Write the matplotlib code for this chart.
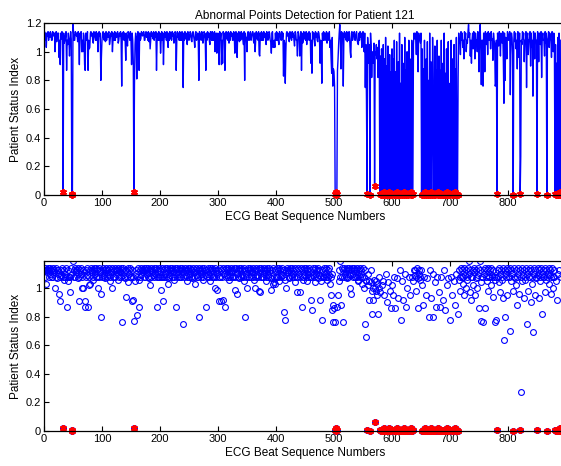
import matplotlib
matplotlib.use("Agg")
import matplotlib.pyplot as plt
from matplotlib.ticker import FuncFormatter
import numpy as np

# patient status index per ECG beat (100 beats per list)
beats_000 = [1.13, 1.14, 1.08, 1.13, 1.03, 1.13, 1.11, 1.14, 1.08, 1.13,
             1.10, 1.14, 1.13, 1.08, 1.08, 1.14, 1.13, 1.11, 1.13, 1.00,
             1.08, 1.14, 1.07, 1.13, 1.10, 1.13, 0.96, 1.08, 0.91, 1.13,
             1.09, 1.14, 1.08, 0.02, 1.13, 1.06, 1.08, 1.10, 1.14, 0.87,
             1.08, 1.05, 1.13, 1.08, 0.97, 1.08, 1.14, 1.09, 0.01, 0.00,
             1.19, 1.13, 1.08, 1.08, 1.14, 1.13, 1.11, 1.13, 1.07, 1.14,
             1.08, 0.91, 1.13, 1.10, 1.14, 1.00, 1.08, 1.00, 1.13, 1.11,
             0.91, 0.87, 1.13, 1.08, 1.09, 1.14, 0.87, 1.08, 1.02, 1.03,
             1.13, 1.14, 1.11, 1.13, 1.08, 1.06, 1.14, 1.13, 1.10, 1.08,
             1.14, 1.08, 1.13, 1.00, 1.08, 1.14, 1.11, 1.13, 0.80, 0.96]
beats_100 = [1.08, 1.13, 1.14, 1.09, 1.08, 1.13, 1.07, 1.14, 1.08, 1.13,
             1.10, 1.13, 1.14, 1.05, 1.08, 1.13, 1.11, 1.14, 1.00, 1.08,
             1.13, 1.08, 1.14, 1.08, 1.13, 1.10, 1.13, 1.14, 1.06, 1.08,
             1.13, 1.11, 1.14, 1.08, 0.76, 1.13, 1.09, 1.14, 1.08, 1.13,
             1.07, 0.94, 1.13, 1.08, 1.04, 1.14, 1.13, 1.10, 1.08, 1.14,
             1.08, 0.91, 1.13, 1.08, 0.92, 0.02, 0.77, 1.05, 1.13, 1.10,
             0.81, 1.08, 1.14, 1.06, 0.87, 1.13, 1.08, 1.09, 1.14, 1.13,
             1.11, 1.13, 1.14, 1.08, 1.08, 1.13, 1.14, 1.10, 1.13, 1.08,
             1.14, 1.07, 1.13, 1.02, 1.08, 1.14, 1.11, 1.13, 1.09, 1.14,
             1.08, 1.13, 1.10, 1.14, 0.87, 1.08, 1.13, 1.08, 1.14, 1.08]
beats_200 = [1.13, 0.99, 1.08, 1.14, 1.08, 1.13, 0.91, 1.08, 1.14, 1.10,
             1.13, 1.08, 1.14, 1.07, 1.03, 1.13, 1.08, 1.14, 1.09, 1.13,
             1.08, 1.14, 1.11, 1.13, 1.06, 1.08, 1.14, 1.13, 0.87, 1.08,
             1.14, 1.10, 1.13, 1.08, 1.14, 1.08, 1.13, 1.08, 1.14, 1.11,
             0.75, 1.13, 1.08, 1.14, 1.09, 1.13, 1.08, 1.05, 1.14, 1.13,
             1.08, 1.10, 1.14, 1.13, 1.08, 1.07, 1.13, 1.14, 1.11, 1.08,
             1.03, 1.13, 1.14, 1.08, 1.09, 1.13, 1.08, 0.80, 1.14, 1.13,
             1.10, 1.08, 1.14, 1.13, 1.06, 1.08, 1.14, 1.13, 1.09, 0.87,
             1.13, 1.08, 1.14, 1.10, 1.13, 1.08, 1.05, 1.14, 1.13, 1.08,
             1.14, 1.08, 1.13, 1.08, 1.14, 1.00, 1.08, 1.13, 0.99, 1.10]
beats_300 = [1.13, 1.08, 0.91, 1.14, 1.08, 1.13, 0.91, 1.08, 0.92, 1.14,
             1.10, 1.13, 0.87, 1.08, 1.14, 1.09, 1.13, 1.08, 1.14, 1.06,
             1.13, 1.08, 1.14, 1.11, 1.13, 1.08, 1.08, 1.14, 1.13, 0.99,
             1.08, 1.14, 1.10, 0.96, 1.13, 1.08, 1.14, 1.07, 1.13, 1.08,
             1.14, 1.09, 1.13, 1.08, 1.05, 1.14, 0.80, 1.13, 1.08, 1.10,
             1.00, 1.13, 1.14, 1.08, 1.08, 1.13, 1.14, 1.08, 1.11, 1.13,
             1.14, 1.08, 1.06, 1.13, 1.00, 1.08, 1.14, 1.09, 1.13, 1.08,
             1.14, 0.98, 0.97, 1.13, 1.08, 1.14, 1.08, 1.13, 1.08, 1.14,
             1.10, 1.13, 1.08, 1.05, 1.14, 1.13, 1.08, 1.09, 1.14, 1.13,
             1.08, 1.07, 0.99, 1.13, 1.14, 1.03, 1.04, 1.08, 1.03, 1.13]
beats_400 = [1.08, 1.14, 1.08, 1.13, 1.08, 1.05, 1.14, 1.13, 1.10, 1.08,
             1.14, 1.09, 1.13, 0.83, 1.08, 1.06, 0.78, 1.00, 1.13, 1.14,
             1.11, 1.13, 1.08, 1.07, 1.14, 1.13, 1.09, 1.08, 1.14, 1.10,
             1.13, 1.08, 1.04, 1.14, 1.13, 1.08, 1.08, 0.97, 1.14, 1.13,
             1.10, 0.97, 1.08, 1.14, 0.87, 1.13, 1.06, 1.08, 1.14, 1.09,
             1.13, 1.08, 1.14, 1.05, 1.13, 1.08, 1.10, 1.14, 1.08, 1.13,
             0.92, 1.08, 0.85, 1.14, 1.09, 1.13, 1.08, 1.04, 1.14, 1.10,
             1.13, 1.08, 1.07, 1.14, 1.13, 1.09, 0.92, 1.08, 1.05, 0.78,
             1.13, 1.08, 1.14, 1.08, 1.13, 1.10, 1.08, 1.14, 1.06, 1.13,
             1.08, 1.09, 1.14, 1.03, 1.08, 0.95, 0.85, 1.10, 0.76, 0.88]
beats_500 = [0.86, 0.76, 0.01, 0.00, 0.02, 0.01, 0.87, 0.95, 1.05, 1.13,
             1.19, 1.08, 0.88, 1.14, 1.08, 1.13, 0.76, 1.08, 1.14, 1.10,
             1.13, 1.08, 1.14, 1.07, 1.13, 1.08, 1.14, 1.09, 1.00, 0.96,
             1.13, 1.14, 1.08, 1.10, 1.13, 1.14, 1.08, 1.08, 1.13, 1.14,
             1.08, 1.06, 1.05, 1.13, 1.08, 1.14, 1.10, 1.13, 1.03, 1.08,
             1.14, 1.08, 1.00, 1.13, 0.75, 1.05, 0.66, 0.01, 1.10, 1.02,
             0.92, 1.05, 0.00, 1.13, 1.04, 0.82, 0.98, 1.00, 0.92, 1.06,
             0.06, 1.00, 0.98, 1.05, 0.95, 1.03, 0.82, 1.00, 1.08, 0.01,
             0.97, 0.00, 1.02, 0.01, 0.00, 1.05, 0.02, 0.95, 0.00, 1.10,
             0.01, 0.90, 0.00, 1.04, 0.02, 0.00, 0.98, 0.01, 0.86, 0.00]
beats_600 = [1.02, 0.01, 0.95, 0.00, 1.08, 0.01, 0.86, 0.00, 1.07, 0.02,
             0.00, 0.93, 0.01, 1.13, 0.00, 0.78, 0.01, 1.05, 0.00, 0.92,
             0.02, 0.00, 1.10, 0.01, 0.87, 0.00, 1.00, 0.01, 0.00, 1.08,
             0.01, 0.95, 0.00, 0.02, 1.08, 0.00, 0.01, 1.05, 1.13, 1.09,
             1.13, 1.08, 0.98, 1.14, 1.07, 0.86, 1.13, 1.10, 1.08, 1.06,
             1.13, 0.00, 1.02, 0.01, 0.88, 0.00, 1.08, 0.02, 0.00, 0.95,
             0.01, 1.07, 0.00, 0.80, 0.01, 1.13, 0.00, 0.93, 0.02, 0.00,
             1.10, 0.80, 0.01, 0.00, 1.04, 0.00, 0.87, 0.01, 1.08, 0.00,
             0.02, 0.97, 0.00, 0.87, 0.01, 1.08, 0.00, 0.01, 0.92, 0.00,
             1.13, 0.01, 0.85, 0.00, 1.02, 0.02, 0.00, 1.07, 0.01, 0.00]
beats_700 = [0.78, 0.01, 1.08, 0.00, 0.95, 0.01, 0.00, 1.05, 0.02, 0.88,
             0.00, 1.10, 0.01, 0.00, 0.82, 1.13, 1.06, 1.08, 0.98, 1.14,
             1.08, 1.13, 1.03, 1.08, 0.95, 1.14, 1.09, 1.13, 1.00, 1.08,
             1.06, 1.14, 1.19, 1.10, 1.13, 0.97, 1.08, 0.92, 1.08, 1.13,
             1.02, 1.14, 1.11, 0.95, 1.13, 1.07, 1.08, 1.00, 1.14, 1.09,
             0.86, 1.13, 1.19, 1.04, 0.77, 1.08, 1.08, 0.76, 1.13, 1.10,
             0.86, 1.14, 1.08, 1.05, 1.13, 0.98, 1.14, 1.08, 1.08, 1.13,
             1.02, 1.14, 1.08, 1.09, 0.94, 1.13, 1.08, 1.06, 0.76, 0.78,
             1.08, 0.01, 1.13, 1.08, 1.04, 1.14, 1.10, 0.97, 1.13, 1.08,
             1.06, 1.14, 0.93, 0.64, 1.13, 0.80, 1.10, 1.08, 0.95, 1.14]
beats_800 = [1.13, 1.08, 1.08, 1.14, 0.70, 1.05, 1.13, 1.10, 0.98, 0.00,
             1.08, 1.14, 1.07, 1.13, 1.02, 1.08, 0.88, 1.14, 1.10, 0.96,
             1.13, 0.01, 0.27, 1.08, 1.05, 1.14, 1.09, 1.13, 0.93, 1.08,
             1.06, 1.14, 0.75, 1.10, 1.13, 0.98, 1.08, 1.08, 1.14, 0.90,
             1.13, 1.03, 1.08, 0.69, 1.14, 1.10, 0.95, 1.13, 1.07, 1.08,
             0.01, 1.14, 1.09, 0.93, 1.13, 1.08, 1.05, 1.14, 0.82, 1.10,
             1.13, 1.08, 1.08, 0.97, 1.14, 1.06, 1.13, 0.00, 1.08, 1.10,
             1.14, 1.03, 1.13, 1.09, 1.08, 0.96, 1.14, 1.08, 1.00, 1.13,
             1.08, 0.01, 1.05, 0.00, 0.92, 0.01, 1.10, 0.00, 1.13, 0.02,
             0.00, 1.08]

status = np.array(beats_000 + beats_100 + beats_200 + beats_300 + beats_400
                  + beats_500 + beats_600 + beats_700 + beats_800)
beat = np.arange(len(status))
abnormal = status < 0.1  # points flagged as abnormal

plt.rcParams['font.family'] = ['Liberation Sans', 'DejaVu Sans']
plt.rcParams['font.size'] = 8

fig = plt.figure(figsize=(5.61, 4.66), dpi=100)
ax1 = fig.add_axes([0.0784, 0.5815, 0.9305, 0.369])
ax2 = fig.add_axes([0.0784, 0.0751, 0.9305, 0.3648])

fmt = FuncFormatter(lambda v, p: '%g' % round(v, 2))
star = (6, 2, 0)

ax1.plot(beat, status, color='#0000ff', lw=1.0)
ax1.plot(beat[abnormal], status[abnormal], ls='none', marker=star,
         color='#ff0000', ms=5, mew=1.3, clip_on=False)
ax1.set_ylim(0, 1.2)
ax1.set_yticks([0, 0.2, 0.4, 0.6, 0.8, 1.0, 1.2])
ax1.set_title('Abnormal Points Detection for Patient 121', fontsize=8.5, pad=3)

ax2.plot(beat[~abnormal], status[~abnormal], ls='none', marker='o', mfc='none',
         mec='#0000ff', ms=4.2, mew=0.8)
ax2.plot(beat[abnormal], status[abnormal], ls='none', marker='o', mfc='none',
         mec='#0000ff', ms=4.2, mew=0.8, clip_on=False)
ax2.plot(beat[abnormal], status[abnormal], ls='none', marker=star,
         color='#ff0000', ms=5, mew=1.3, clip_on=False)
ax2.set_ylim(0, 1.19)
ax2.set_yticks([0, 0.2, 0.4, 0.6, 0.8, 1.0])

for ax in (ax1, ax2):
    ax.set_xlim(0, 900)
    ax.set_xticks(range(0, 900, 100))
    ax.yaxis.set_major_formatter(fmt)
    ax.tick_params(direction='in', top=True, right=True, length=3.5, width=0.8, pad=2)
    ax.set_xlabel('ECG Beat Sequence Numbers', fontsize=8.5, labelpad=2)
    ax.set_ylabel('Patient Status Index', fontsize=8.5, labelpad=3)
    for s in ax.spines.values():
        s.set_linewidth(0.9)

fig.savefig('out.png', dpi=100)
